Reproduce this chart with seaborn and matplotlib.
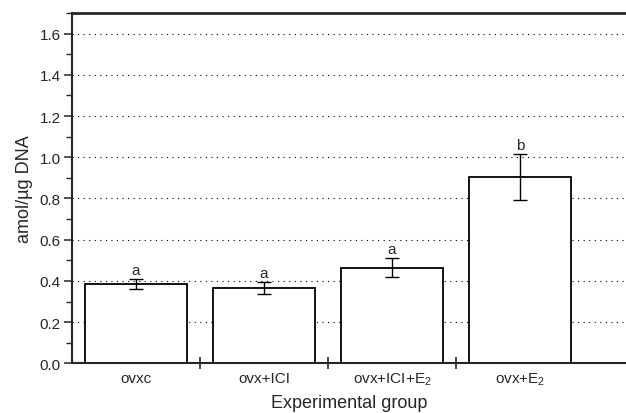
import numpy as np
import pandas as pd
import matplotlib
matplotlib.use("Agg")
import matplotlib.pyplot as plt
import seaborn as sns
from matplotlib.ticker import MultipleLocator

groups = ["ovxc", "ovx+ICI", "ovx+ICI+E$_2$", "ovx+E$_2$"]
means = [0.385, 0.365, 0.465, 0.903]
errors = [0.023, 0.028, 0.044, 0.112]
letters = ["a", "a", "a", "b"]

sns.set_style("ticks")
plt.rcParams['font.family'] = ['Liberation Sans', 'DejaVu Sans']
plt.rcParams['mathtext.fontset'] = 'custom'
plt.rcParams['mathtext.rm'] = 'Liberation Sans'
plt.rcParams['mathtext.it'] = 'Liberation Sans'

fig = plt.figure(figsize=(6.26, 4.14), dpi=100)
ax = fig.add_axes([0.115, 0.12, 0.885, 0.846])

df = pd.DataFrame({"group": groups, "mean": means})
sns.barplot(data=df, x="group", y="mean", color="white", edgecolor="black",
            linewidth=1.3, width=0.8, ax=ax, errorbar=None, zorder=2)
for p in ax.patches:
    p.set_facecolor("white")

xs = np.arange(len(groups))
ax.errorbar(xs, means, yerr=errors, fmt="none", ecolor="black",
            elinewidth=1.0, capsize=4.7, capthick=1.0, zorder=3)
for x, m, e, l in zip(xs, means, errors, letters):
    ax.annotate(l, (x, m + e), xytext=(0, 1.5), textcoords="offset points",
                ha="center", va="bottom", fontsize=11)

ax.set_xlim(-0.5, 3.83)
ax.set_ylim(0, 1.7)
ax.yaxis.set_minor_locator(MultipleLocator(0.1))
ax.set_yticks(np.arange(0, 1.61, 0.2))
ax.set_yticklabels([f"{v:.1f}" for v in np.arange(0, 1.61, 0.2)])
ax.yaxis.grid(True, which="major", linestyle=(0, (1, 4)), color="black", linewidth=0.8)
ax.set_axisbelow(True)

ax.set_xticks([0.5, 1.5, 2.5])
ax.set_xticklabels([])
ax.tick_params(axis="x", which="major", direction="inout", length=9, width=1.2)
for x, g in zip(xs, groups):
    ax.text(x, -0.035, g, ha="center", va="top", fontsize=11,
            transform=ax.transData)
ax.tick_params(axis="y", which="major", direction="out", length=6, width=1.1, labelsize=11, pad=2)
ax.tick_params(axis="y", which="minor", direction="out", length=4, width=1.0)

ax.spines["right"].set_visible(False)
ax.spines["top"].set_linewidth(2.0)
ax.spines["left"].set_linewidth(1.5)
ax.spines["bottom"].set_linewidth(1.5)

ax.set_xlabel("Experimental group", fontsize=13, labelpad=14)
ax.set_ylabel("amol/\u00b5g DNA", fontsize=13, labelpad=5)

fig.savefig("out.png", dpi=100)
